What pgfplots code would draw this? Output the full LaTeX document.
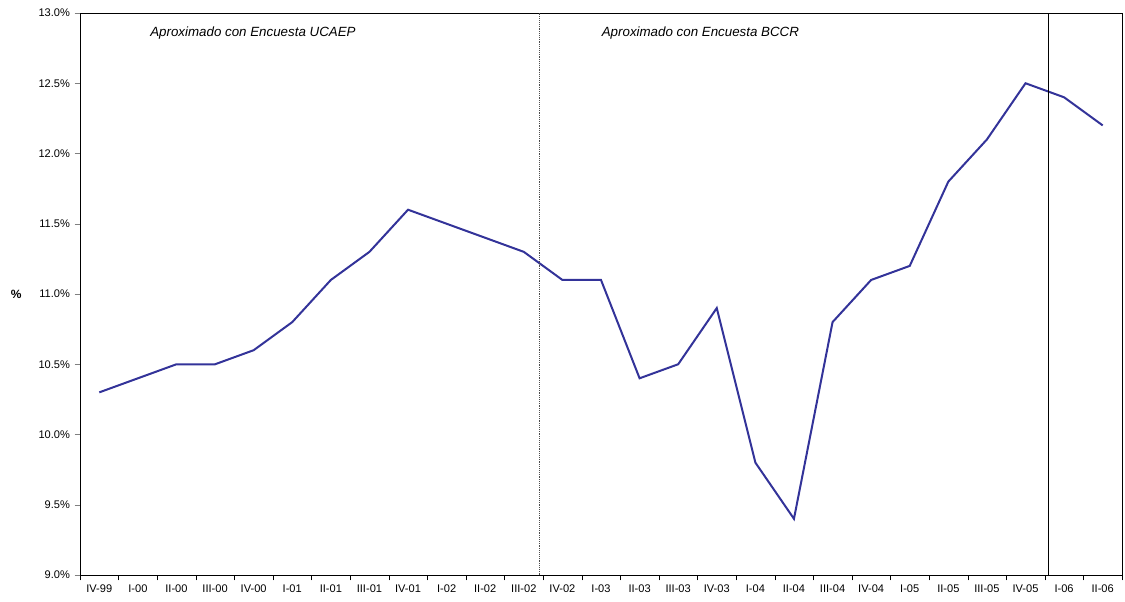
\documentclass[border=0pt]{standalone}
\usepackage{pgfplots}
\pgfplotsset{compat=1.18}
\usepackage{fontspec}
\setmainfont{Liberation Sans}
\definecolor{ln}{HTML}{333399}
\begin{document}
\begin{tikzpicture}
\path[use as bounding box] (-60pt,-19.5pt) rectangle (783.75pt,431.25pt);
\begin{axis}[at={(0,0)},anchor=south west,scale only axis,width=781.5pt,height=421.5pt,
 xmin=-0.5,xmax=26.5,ymin=9,ymax=13,
 xtick={0,...,26},
 xticklabels={IV-99,I-00,II-00,III-00,IV-00,I-01,II-01,III-01,IV-01,I-02,II-02,III-02,IV-02,I-03,II-03,III-03,IV-03,I-04,II-04,III-04,IV-04,I-05,II-05,III-05,IV-05,I-06,II-06},
 major x tick style={draw=none},
 minor xtick={-0.5,0.5,...,26.5},
 minor x tick style={black},
 xtick pos=bottom, ytick pos=left,
 tick align=outside,
 minor tick length=4pt, major tick length=4pt,
 ytick={9,9.5,...,13},
 yticklabel={\pgfmathprintnumber[fixed,fixed zerofill,precision=1]{\tick}\%},
 /pgf/number format/assume math mode=true,
 ticklabel style={font=\fontsize{8.3}{9}\selectfont},
 ylabel={\textbf{\%}},ylabel style={rotate=-90,font=\fontsize{9}{10}\selectfont},
 ylabel shift=6pt,
 clip=false]
\addplot[ln,line width=1.5pt] coordinates {
(0,10.3)(1,10.4)(2,10.5)(3,10.5)(4,10.6)(5,10.8)(6,11.1)(7,11.3)(8,11.6)(9,11.5)(10,11.4)(11,11.3)(12,11.1)(13,11.1)(14,10.4)(15,10.5)(16,10.9)(17,9.8)(18,9.4)(19,10.8)(20,11.1)(21,11.2)(22,11.8)(23,12.1)(24,12.5)(25,12.4)(26,12.2)};
\draw[densely dotted,black!70] (axis cs:11.4,9) -- (axis cs:11.4,13);
\draw[black] (axis cs:24.6,9) -- (axis cs:24.6,13);
\node[font=\itshape\fontsize{10}{12}\selectfont,anchor=west] at (axis cs:1.2,12.86) {Aproximado con Encuesta UCAEP};
\node[font=\itshape\fontsize{10}{12}\selectfont,anchor=west] at (axis cs:12.9,12.86) {Aproximado con Encuesta BCCR};
\end{axis}
\end{tikzpicture}
\end{document}
